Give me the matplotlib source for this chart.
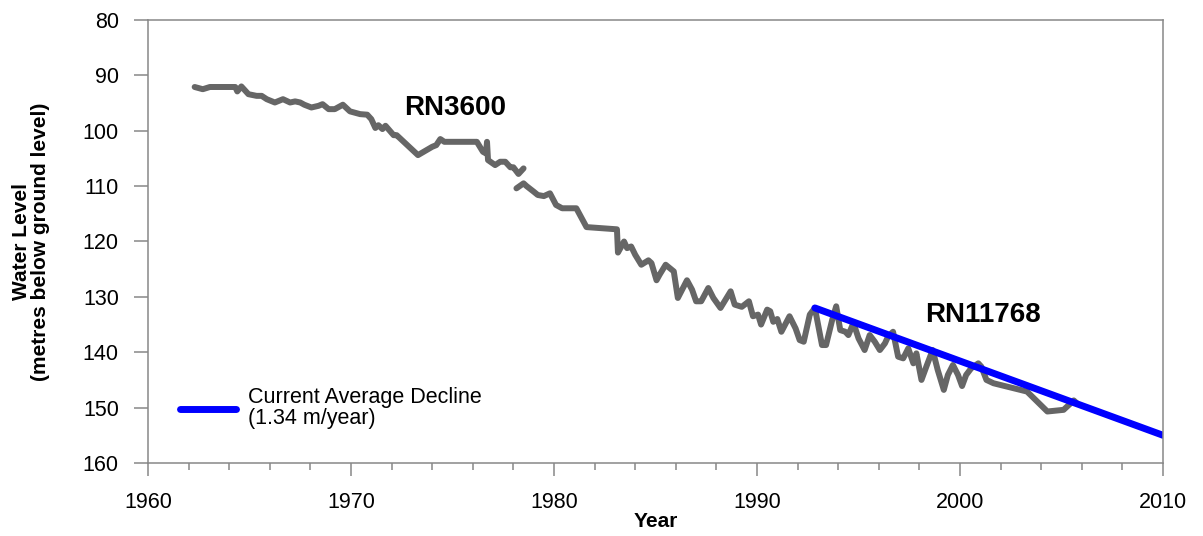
# Water level hydrograph, RN3600 / RN11768
import matplotlib.pyplot as plt
import numpy as np

plt.rcParams['font.family'] = ['Liberation Sans', 'DejaVu Sans']

# RN3600 (older bore)
rn3600_year = [1962.3, 1962.7, 1963.05, 1964.3, 1964.4, 1964.6, 1964.95, 1965.35, 1965.6,
               1965.85, 1966.25, 1966.65, 1967.0, 1967.25, 1967.5, 1967.7, 1968.05, 1968.4,
               1968.6, 1968.9, 1969.2, 1969.6, 1969.95, 1970.45, 1970.8, 1971.0, 1971.2,
               1971.35, 1971.55, 1971.7, 1972.1, 1972.25, 1973.3, 1974.0, 1974.2, 1974.4,
               1974.6, 1976.2, 1976.5, 1976.65, 1976.7, 1976.75, 1977.1, 1977.35, 1977.6,
               1977.85, 1978.0, 1978.25, 1978.5]
rn3600_level = [92.1, 92.5, 92.1, 92.1, 92.9, 92.0, 93.4, 93.7, 93.7,
                94.3, 94.9, 94.3, 94.9, 94.7, 94.9, 95.3, 95.8, 95.5,
                95.2, 96.1, 96.1, 95.3, 96.5, 97.0, 97.1, 97.9, 99.5,
                99.0, 99.7, 99.1, 100.8, 100.8, 104.4, 102.9, 102.6, 101.5,
                102.0, 102.0, 103.8, 104.1, 102.0, 105.3, 106.2, 105.6, 105.6,
                106.6, 106.6, 107.8, 106.8]

# RN11768 (replacement bore)
rn11768_year = [1978.15, 1978.5, 1978.65, 1979.0, 1979.2, 1979.5, 1979.8, 1980.1, 1980.4,
                1981.1, 1981.6, 1983.1, 1983.15, 1983.45, 1983.6, 1983.8, 1984.0, 1984.3,
                1984.65, 1984.8, 1985.05, 1985.2, 1985.5, 1985.9, 1986.1, 1986.55, 1986.8,
                1987.0, 1987.25, 1987.6, 1987.85, 1988.2, 1988.7, 1988.9, 1989.25, 1989.6,
                1989.8, 1990.05, 1990.2, 1990.5, 1990.65, 1990.8, 1991.0, 1991.2, 1991.6,
                1991.9, 1992.1, 1992.3, 1992.6, 1992.85, 1993.2, 1993.4, 1993.7, 1993.9,
                1994.1, 1994.35, 1994.5, 1994.75, 1995.0, 1995.3, 1995.55, 1995.8, 1996.05,
                1996.3, 1996.45, 1996.7, 1996.95, 1997.2, 1997.45, 1997.7, 1997.85, 1998.1,
                1998.35, 1998.65, 1998.9, 1999.2, 1999.4, 1999.65, 1999.9, 2000.1, 2000.3,
                2000.55, 2000.9, 2001.05, 2001.3, 2001.65, 2003.3, 2004.3, 2005.1, 2005.6,
                2005.75]
rn11768_level = [110.4, 109.5, 110.0, 111.0, 111.6, 111.8, 111.3, 113.4, 114.0,
                 114.0, 117.4, 117.8, 122.0, 120.0, 121.2, 120.9, 122.4, 124.2,
                 123.4, 123.9, 127.0, 126.0, 124.2, 125.4, 130.2, 127.0, 128.7,
                 130.8, 130.8, 128.4, 130.2, 132.0, 129.0, 131.4, 131.8, 130.8,
                 133.5, 133.2, 135.0, 132.3, 132.6, 134.5, 134.0, 136.3, 133.5,
                 135.7, 137.8, 138.1, 133.2, 132.0, 138.7, 138.7, 134.2, 131.7,
                 136.0, 136.3, 136.9, 134.7, 137.5, 139.6, 136.9, 138.1, 139.6,
                 138.4, 137.2, 136.3, 140.8, 141.1, 139.3, 142.0, 140.2, 145.0,
                 142.5, 139.6, 143.2, 146.8, 144.1, 142.3, 144.1, 146.1, 144.1,
                 142.9, 142.0, 142.6, 145.0, 145.6, 147.1, 150.7, 150.4, 148.7,
                 149.2]

# Trend line
trend_year = [1992.85, 2010.0]
trend_level = [132.0, 155.0]

fig = plt.figure(figsize=(12.03, 5.36), dpi=100)
ax = fig.add_axes([0.123, 0.1362, 0.8438, 0.8265])

grey = '#666666'
ax.plot(rn3600_year, rn3600_level, color=grey, lw=4.3, solid_capstyle='round',
        solid_joinstyle='round')
ax.plot(rn11768_year, rn11768_level, color=grey, lw=4.3, solid_capstyle='round',
        solid_joinstyle='round')
ax.plot(trend_year, trend_level, color='#0000ff', lw=5, solid_capstyle='round',
        label='Current Average Decline\n(1.34 m/year)')

ax.set_xlim(1960, 2010)
ax.set_ylim(160, 80)
ax.set_xticks(np.arange(1960, 2011, 10))
ax.set_xticks(np.arange(1960, 2011, 2), minor=True)
ax.set_yticks(np.arange(80, 161, 10))

for s in ax.spines.values():
    s.set_color('#888888')
    s.set_linewidth(1.1)

ax.tick_params(axis='both', which='major', colors='#888888', labelcolor='black',
               labelsize=15.5, width=1.1)
ax.tick_params(axis='x', which='major', length=9, pad=12)
ax.tick_params(axis='x', which='minor', length=5, width=1.1, colors='#888888')
ax.tick_params(axis='y', which='major', length=10, pad=11)

ax.set_xlabel('Year', fontsize=15, fontweight='bold')
ax.xaxis.set_label_coords(0.5, -0.11)
ax.set_ylabel('Water Level\n(metres below ground level)', fontsize=15,
              fontweight='bold', linespacing=1.0)
ax.yaxis.set_label_coords(-0.097, 0.5)

ax.text(1972.6, 97.2, 'RN3600', fontsize=20, fontweight='bold')
ax.text(1998.3, 134.6, 'RN11768', fontsize=20, fontweight='bold')

ax.legend(loc='center left', bbox_to_anchor=(0.0315, 0.124), frameon=False,
          fontsize=15.5, handlelength=2.6, handletextpad=0.55, borderpad=0,
          borderaxespad=0, labelspacing=0)
plt.setp(ax.get_legend().get_texts(), linespacing=1.0)

fig.savefig('out.png', dpi=100)
